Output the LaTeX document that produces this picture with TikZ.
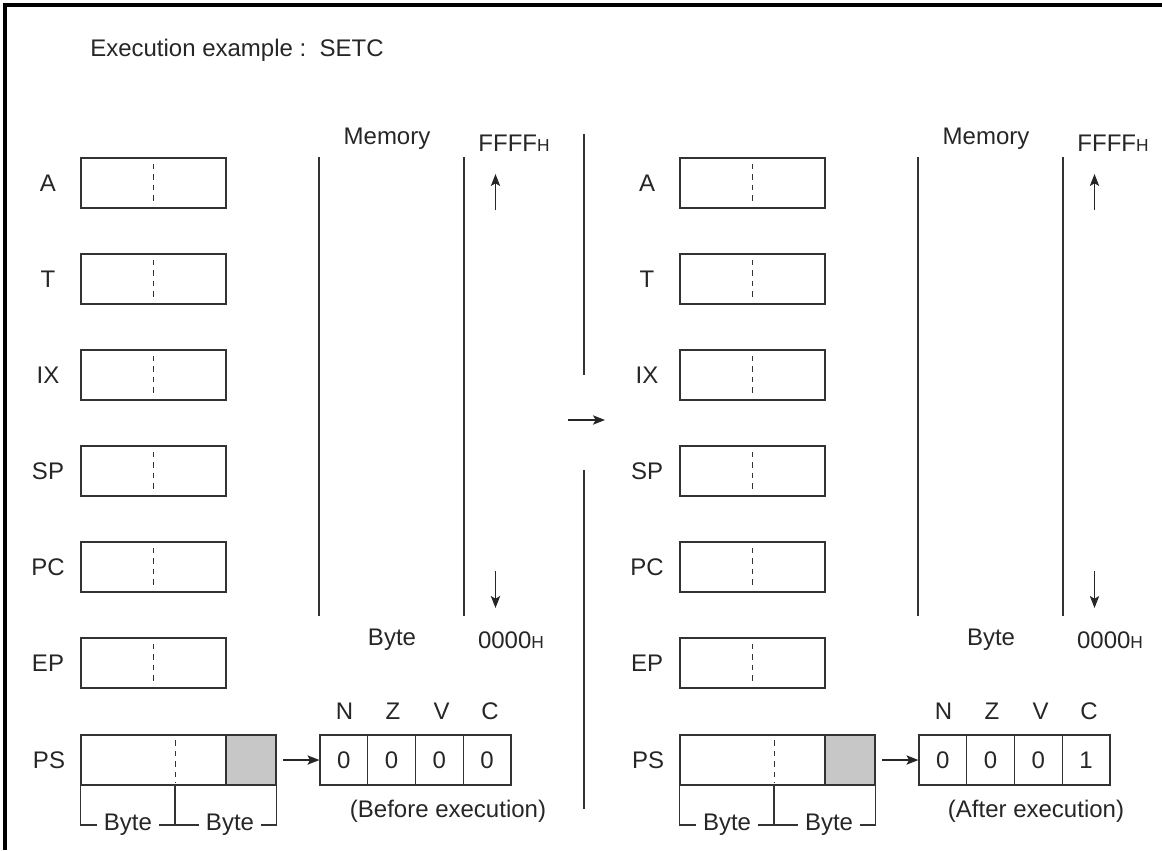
\documentclass[tikz,border=0pt]{standalone}
\usepackage{fontspec}
\setmainfont{Liberation Sans}
\usetikzlibrary{arrows.meta}
\newcommand\hsub{{\fontsize{13}{13}\selectfont H}}
\newcommand\drawpanel[5]{%
\begin{scope}[xshift={#2*0.75pt}]
  \foreach \n [count=\i from 0] in {A,T,IX,SP,PC,EP} {
    \node[regbox] (#1\n) at (153.5,{183+96*\i}) {};
    \node[lbl] (#1\n l) at (48,{183+96*\i}) {\n};
    \draw[dsh] ([yshift=-5pt]#1\n.north) -- ([yshift=5pt]#1\n.south);
  }
  % PS register
  \node[lbl] (#1psl) at (49,760) {PS};
  \node[regbox, minimum width=195*0.75pt] (#1ps) at (178.5,760) {};
  \node[regbox, minimum width=50*0.75pt, fill=black!22] (#1psg) at (251,760) {};
  \coordinate (#1pst) at ([yshift=-4.5pt]#1ps.north -| 175,0);
  \coordinate (#1psb) at (#1ps.south -| 175,0);
  \draw[dsh] (#1pst) -- ([yshift=2pt]#1psb);
  \node[lbl, inner xsep=5pt] (#1b1) at (128,825) {Byte};
  \node[lbl, inner xsep=5pt] (#1b2) at (230,825) {Byte};
  \draw[ln] (#1ps.south west) |- (#1b1.west);
  \draw[ln] (#1b1.east) -- (#1b2.west);
  \draw[ln] (#1psb) -- (#1psb |- #1b1.center);
  \draw[ln] (#1b2.east) -| (#1ps.south east);
  % flags
  \foreach \f/\v [count=\j from 0] in {N/0,Z/0,V/0,C/#3} {
    \node[regbox, minimum width=47.75*0.75pt] (#1f\f) at ({343.9+47.75*\j},760) {\v};
    \node[lbl] (#1fl\f) at ({344.5+48.5*\j},711) {\f};
  }
  \draw[arr, shorten <=5pt] (#1psg.east) -- (#1fN.west);
  \node[lbl] (#1cap) at (#5,811) {#4};
  % memory
  \coordinate (#1m1t) at (319,157); \coordinate (#1m1b) at (319,616);
  \coordinate (#1m2t) at (464,157); \coordinate (#1m2b) at (464,616);
  \draw[ln] (#1m1t) -- (#1m1b);
  \draw[ln] (#1m2t) -- (#1m2b);
  \node[lbl] (#1mem) at (387,139) {Memory};
  \node[lbl] (#1ffff) at (514,143) {FFFF\hsub};
  \node[lbl] (#1byte) at (392,640) {Byte};
  \node[lbl] (#1zero) at (511,640) {0000\hsub};
  \coordinate (#1u1) at (495.5,210); \coordinate (#1u2) at (495.5,174);
  \draw[arr] (#1u1) -- (#1u2);
  \coordinate (#1d1) at (495.5,571); \coordinate (#1d2) at (495.5,608);
  \draw[arr] (#1d1) -- (#1d2);
\end{scope}}
\begin{document}
\begin{tikzpicture}[x=0.75pt,y=-0.75pt,
  lbl/.style={font=\fontsize{18}{21}\selectfont, inner sep=0pt, text=black!85},
  ln/.style={draw=black!80, line width=0.8pt},
  regbox/.style={draw=black!80, line width=0.9pt, minimum width=145*0.75pt,
    minimum height=50*0.75pt, inner sep=0pt, font=\fontsize{18}{21}\selectfont, text=black!85},
  dsh/.style={draw=black!80, line width=0.7pt, dash pattern=on 4pt off 3.8pt},
  arr/.style={draw=black!85, line width=0.9pt, -{Stealth[length=9pt,width=7pt,inset=2pt]}}]
\useasboundingbox (0,0) rectangle (1162,850);
\draw[line width=2.5pt] (5,850) -- (5,5) -- (1162,5);
\node[lbl, anchor=west] (title) at (90,50) {Execution example :\ \ SETC};
\drawpanel{L}{0}{0}{(Before execution)}{448}
\drawpanel{R}{599}{1}{(After execution)}{437}
% middle divider and arrow
\coordinate (dv1) at (584,134); \coordinate (dv2) at (584,375);
\coordinate (dv3) at (584,470); \coordinate (dv4) at (584,809);
\draw[ln] (dv1) -- (dv2);
\draw[ln] (dv3) -- (dv4);
\coordinate (ma1) at (568,420); \coordinate (ma2) at (605,420);
\draw[arr] (ma1) -- (ma2);
\end{tikzpicture}
\end{document}
